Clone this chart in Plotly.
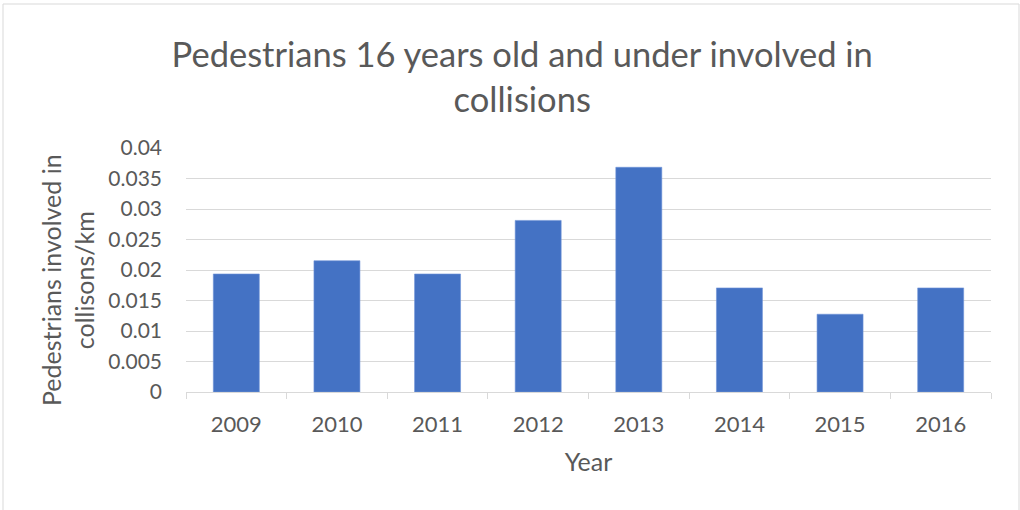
import plotly.graph_objects as go

years = ["2009", "2010", "2011", "2012", "2013", "2014", "2015", "2016"]
values = [0.01935, 0.02152, 0.01935, 0.02813, 0.03684, 0.01706, 0.01275, 0.01706]
y_ticks = [0, 0.005, 0.01, 0.015, 0.02, 0.025, 0.03, 0.035, 0.04]
y_tick_labels = ["0", "0.005", "0.01", "0.015", "0.02", "0.025", "0.03", "0.035", "0.04"]

TEXT = "#595959"
GRID = "#d9d9d9"
FONT = "Lato"

W, H = 1020, 510
L, R, T, B = 186, 29, 148, 118

fig = go.Figure(go.Bar(x=years, y=values, marker=dict(color="#4472C4", line=dict(width=0.6, color="#6f93d6"))))

fig.update_layout(
    width=W, height=H,
    margin=dict(l=L, r=R, t=T, b=B, autoexpand=False),
    paper_bgcolor="white", plot_bgcolor="white",
    bargap=0.543,
    showlegend=False,
    font=dict(family=FONT, color=TEXT),
    title=dict(
        text="Pedestrians 16 years old and under involved in<br>collisions",
        x=0.512, xanchor="center", y=1 - 67 / H, yanchor="middle",
        font=dict(family=FONT, size=34.5, color=TEXT),
    ),
)

fig.update_xaxes(
    type="category",
    showline=True, linecolor=GRID, linewidth=1,
    ticks="outside", tickson="boundaries", ticklen=6, tickcolor=GRID, tickwidth=1,
    tickfont=dict(family=FONT, size=22, color=TEXT),
    ticklabelstandoff=13,
    title=dict(text="Year", font=dict(family=FONT, size=25, color=TEXT), standoff=17),
    showgrid=False,
)
fig.update_yaxes(
    range=[0, 0.04], tickvals=y_ticks, ticktext=y_tick_labels,
    showgrid=True, gridcolor=GRID, gridwidth=1, zeroline=False, showline=False,
    ticks="", tickfont=dict(family=FONT, size=21, color=TEXT),
    ticklabelstandoff=23,
)

pw, ph = W - L - R, H - T - B
fig.add_annotation(
    text="Pedestrians involved in<br>collisons/km",
    xref="paper", yref="paper",
    x=(67 - L) / pw, y=(H - B - 280) / ph,
    xanchor="center", yanchor="middle",
    textangle=-90, showarrow=False,
    font=dict(family=FONT, size=25, color=TEXT),
)
fig.add_shape(
    type="rect", xref="paper", yref="paper",
    x0=(3 - L) / pw, x1=(1019 - L) / pw,
    y0=(H - 512 - B) / ph, y1=(H - 4 - B) / ph,
    line=dict(color=GRID, width=1), fillcolor="rgba(0,0,0,0)", layer="below",
)

fig.write_html("out.html")
